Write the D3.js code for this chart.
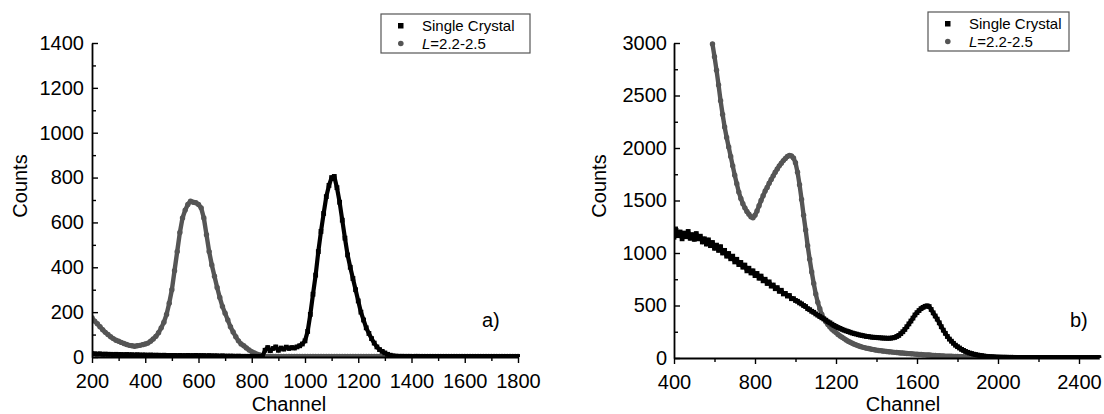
<!DOCTYPE html>
<html>
<head>
<meta charset="utf-8">
<script src="https://cdn.jsdelivr.net/npm/d3@7"></script>
<style>
  html, body { margin: 0; padding: 0; background: #fff; }
  svg { display: block; font-family: "Liberation Sans", Arial, sans-serif; }
</style>
</head>
<body>
<svg id="chart" width="1104" height="414"></svg>
<script>
// Panel a): channel grid 200..1800, step 10
const channelsA = d3.range(200, 1801, 10);
const crystalA = [
  15,14,13,14,12,13,12,12,11,12,
  11,11,10,11,10,10,9,10,9,9,
  9,8,9,8,8,8,7,8,7,7,
  7,7,6,7,6,6,7,6,6,7,
  6,6,6,5,6,5,5,5,4,5,
  4,4,4,4,3,4,3,3,3,3,
  3,3,2,3,3,30,42,28,38,45,
  30,40,35,44,38,42,40,45,50,58,
  72,114,190,280,365,470,560,640,715,765,
  800,805,755,690,610,530,455,400,350,300,
  250,200,165,130,105,82,62,45,33,25,
  18,12,8,5,4,3,3,3,2,3,
  2,2,3,2,2,2,2,2,2,2,
  2,2,2,2,2,2,2,2,2,2,
  2,2,2,2,2,2,2,2,2,2,
  2,2,2,2,2,2,2,2,2,2,
  2
];
const glassA = [
  175,160,148,135,122,110,100,90,82,75,
  70,65,60,56,52,50,48,50,52,55,
  58,62,70,80,92,108,130,155,190,240,
  300,385,470,555,620,655,680,695,690,688,
  680,665,620,545,470,410,360,310,265,225,
  195,165,135,112,90,72,58,50,40,31,
  24,18,13,9,6,4,3,3,2,2,
  2,2,2,2,2,2,2,2,2,2,
  2,2,2,2,2,2,2,2,2,2,
  2,2,2,2,2,2,2,2,2,2,
  2,2,2,2,2,2,2,2,2,2,
  2,2,2,2,2,2,2,2,2,2,
  2,2,2,2,2,2,2,2,2,2,
  2,2,2,2,2,2,2,2,2,2,
  2,2,2,2,2,2,2,2,2,2,
  2,2,2,2,2,2,2,2,2,2,
  2
];

// Panel b): channel grid 400..2500, step 10
const channelsB = d3.range(400, 2501, 10);
const crystalB = [
  1150,1215,1165,1200,1135,1190,1155,1205,1140,1175,
  1130,1185,1135,1160,1105,1135,1085,1125,1070,1100,
  1045,1075,1025,1060,1000,1025,970,995,945,970,
  915,940,890,910,865,885,830,855,810,830,
  785,805,760,780,735,750,710,725,685,695,
  660,670,635,645,610,615,590,595,565,565,
  548,540,525,515,500,490,470,460,445,435,
  420,408,395,383,372,360,345,335,322,310,
  300,290,282,273,265,258,252,245,238,232,
  228,222,218,214,210,206,204,200,198,197,
  195,193,192,190,190,188,188,189,192,196,
  205,215,232,250,272,298,325,352,380,410,
  432,452,470,482,492,497,490,462,430,400,
  370,335,298,265,235,205,180,160,140,122,
  108,95,82,72,62,54,47,42,36,32,
  28,25,22,19,16,14,12,11,10,9,
  8,8,7,7,7,6,6,6,6,5,
  5,5,5,5,5,5,4,4,4,4,
  4,4,4,4,4,4,4,3,3,3,
  3,3,3,3,3,3,3,3,3,3,
  3,3,3,3,3,3,3,3,3,3,
  3
];
const glassB = [
  null,null,null,null,null,null,null,null,null,null,
  null,null,null,null,null,null,null,null,null,2990,
  2870,2740,2600,2450,2320,2200,2100,2010,1920,1830,
  1740,1660,1580,1520,1470,1430,1395,1370,1345,1335,
  1360,1400,1450,1500,1545,1590,1625,1665,1700,1735,
  1770,1800,1830,1855,1880,1900,1920,1930,1925,1905,
  1860,1770,1650,1510,1360,1220,1070,940,820,710,
  610,530,470,415,375,345,318,295,275,258,
  242,225,210,197,185,172,160,150,140,132,
  124,117,110,104,99,94,90,86,82,78,
  75,72,70,67,65,62,60,58,56,54,
  52,50,48,47,45,43,42,40,39,37,
  36,34,33,31,30,29,28,26,25,24,
  22,21,20,19,18,17,16,16,15,14,
  14,13,12,12,11,11,10,10,10,9,
  9,8,8,8,7,7,7,7,6,6,
  6,6,5,5,5,5,5,5,4,4,
  4,4,4,4,4,4,4,4,4,4,
  4,4,4,3,3,3,3,3,3,3,
  3,3,3,3,3,3,3,3,3,3,
  3,3,3,3,3,3,3,3,3,3,
  3
];

const xTicksA = [200,400,600,800,1000,1200,1400,1600,1800];
const yTicksA = [0,200,400,600,800,1000,1200,1400];
const xTicksB = [400,800,1200,1600,2000,2400];
const yTicksB = [0,500,1000,1500,2000,2500,3000];

const seriesNames = ["Single Crystal", "=2.2-2.5"];

const svg = d3.select("#chart");
const crystalColor = "#000000";
const glassColor = "#555555";

function drawPanel(cfg) {
  const x = d3.scaleLinear().domain(cfg.xDomain).range(cfg.xRange);
  const y = d3.scaleLinear().domain(cfg.yDomain).range(cfg.yRange);
  const g = svg.append("g");

  const clipId = "clip-" + cfg.id;
  svg.append("defs").append("clipPath").attr("id", clipId)
    .append("rect")
    .attr("x", cfg.xRange[0]).attr("y", cfg.yRange[1] - 3)
    .attr("width", cfg.xRange[1] - cfg.xRange[0] + 2)
    .attr("height", cfg.yRange[0] - cfg.yRange[1] + 3);

  const plot = g.append("g").attr("clip-path", `url(#${clipId})`);

  const series = [
    { vals: cfg.glass, color: glassColor, shape: "circle", width: 4.4 },
    { vals: cfg.crystal, color: crystalColor, shape: "square", width: 4.2 }
  ];

  // dense marker bands
  series.forEach(s => {
    const pts = cfg.channels.map((c, i) => [c, s.vals[i]]).filter(d => d[1] != null);
    const line = d3.line().x(d => x(d[0])).y(d => y(d[1]));
    plot.append("path").datum(pts)
      .attr("d", line).attr("fill", "none")
      .attr("stroke", s.color).attr("stroke-width", s.width)
      .attr("stroke-linejoin", "round").attr("stroke-linecap", "round");
    if (s.shape === "square") {
      plot.selectAll(null).data(pts).enter().append("rect")
        .attr("x", d => x(d[0]) - 2.4).attr("y", d => y(d[1]) - 2.4)
        .attr("width", 4.8).attr("height", 4.8).attr("fill", s.color);
    } else {
      plot.selectAll(null).data(pts).enter().append("circle")
        .attr("cx", d => x(d[0])).attr("cy", d => y(d[1]))
        .attr("r", 2.7).attr("fill", s.color);
    }
  });

  // x axis: major + minor ticks pointing outward
  const xAxis = d3.axisBottom(x).tickValues(cfg.xTicks).tickSize(6)
    .tickSizeOuter(0).tickPadding(11).tickFormat(d3.format("d"));
  const xMinor = d3.axisBottom(x).tickValues(cfg.xMinor).tickSize(4)
    .tickSizeOuter(0).tickFormat("");
  g.append("g").attr("transform", `translate(0,${cfg.yRange[0]})`).call(xAxis);
  g.append("g").attr("transform", `translate(0,${cfg.yRange[0]})`).call(xMinor)
    .select(".domain").remove();

  // y axis: ticks pointing inward
  const yAxis = d3.axisLeft(y).tickValues(cfg.yTicks).tickSize(-6)
    .tickSizeOuter(0).tickPadding(cfg.yPad).tickFormat(d3.format("d"));
  const yMinor = d3.axisLeft(y).tickValues(cfg.yMinor).tickSize(-4)
    .tickSizeOuter(0).tickFormat("");
  g.append("g").attr("transform", `translate(${cfg.xRange[0]},0)`).call(yAxis);
  g.append("g").attr("transform", `translate(${cfg.xRange[0]},0)`).call(yMinor)
    .select(".domain").remove();

  g.selectAll(".domain").attr("stroke", "#000").attr("stroke-width", 1.8);
  g.selectAll(".tick line").attr("stroke", "#000").attr("stroke-width", 1.4);
  g.selectAll(".tick text").attr("font-size", 20).attr("fill", "#000")
    .attr("font-family", '"Liberation Sans", Arial, sans-serif');

  // axis titles
  g.append("text").attr("x", cfg.xTitleX).attr("y", 411)
    .attr("text-anchor", "middle").attr("font-size", 20).text("Channel");
  g.append("text")
    .attr("transform", `translate(${cfg.yTitleX},186) rotate(-90)`)
    .attr("text-anchor", "middle").attr("dy", "0.35em")
    .attr("font-size", 20).text("Counts");

  // panel tag
  g.append("text").attr("x", cfg.tagX).attr("y", 327)
    .attr("font-size", 20).text(cfg.tag);

  // legend
  const lg = g.append("g").attr("transform", `translate(${cfg.legX},${cfg.legY})`);
  lg.append("rect").attr("x", 0).attr("y", 0).attr("width", cfg.legW).attr("height", 39)
    .attr("fill", "#fff").attr("stroke", "#555").attr("stroke-width", 1.2);
  lg.append("rect").attr("x", 17).attr("y", 9).attr("width", 5.5).attr("height", 5.5)
    .attr("fill", crystalColor);
  lg.append("circle").attr("cx", 19.8).attr("cy", 29.5).attr("r", 2.8).attr("fill", glassColor);
  lg.append("text").attr("x", 41).attr("y", 17).attr("font-size", 15).text(seriesNames[0]);
  const t2 = lg.append("text").attr("x", 41).attr("y", 35).attr("font-size", 15);
  t2.append("tspan").attr("font-style", "italic").text("L");
  t2.append("tspan").text(seriesNames[1]);
}

drawPanel({
  id: "a",
  channels: channelsA, crystal: crystalA, glass: glassA,
  xDomain: [200, 1800], xRange: [92, 518],
  yDomain: [0, 1400], yRange: [357, 43],
  xTicks: xTicksA, xMinor: d3.range(300, 1800, 200),
  yTicks: yTicksA, yMinor: d3.range(100, 1400, 200),
  yPad: 8, xTitleX: 289, yTitleX: 20,
  tag: "a)", tagX: 482,
  legX: 381, legY: 14, legW: 149
});

drawPanel({
  id: "b",
  channels: channelsB, crystal: crystalB, glass: glassB,
  xDomain: [400, 2500], xRange: [674, 1099.25],
  yDomain: [0, 3000], yRange: [358, 43],
  xTicks: xTicksB, xMinor: d3.range(600, 2500, 400),
  yTicks: yTicksB, yMinor: d3.range(250, 3000, 500),
  yPad: 7, xTitleX: 903, yTitleX: 599,
  tag: "b)", tagX: 1070,
  legX: 928, legY: 12, legW: 141
});
</script>
</body>
</html>
